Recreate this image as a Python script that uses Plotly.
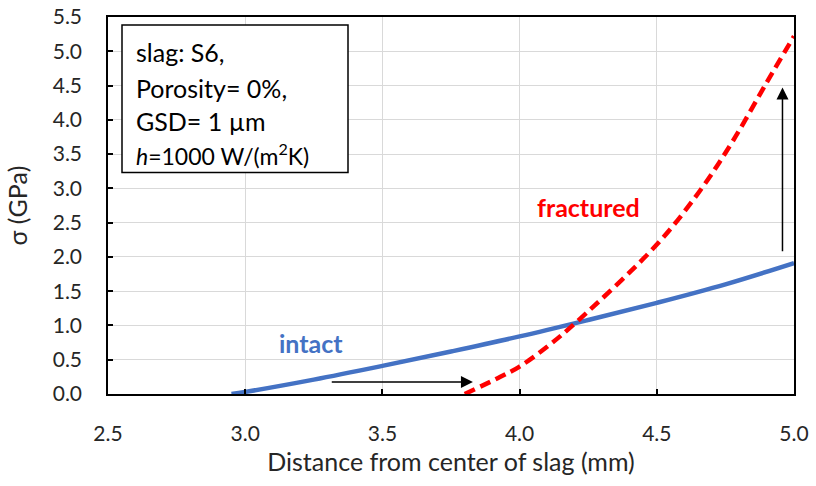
import plotly.graph_objects as go

# Stress profiles across the slag (distance in mm, stress in GPa)
intact_x = [2.95, 3.0, 3.25, 3.5, 3.75, 4.0, 4.25, 4.5, 4.75, 5.0]
intact_y = [0.0, 0.03, 0.21, 0.41, 0.62, 0.84, 1.08, 1.33, 1.60, 1.91]

fractured_x = [3.80, 3.93, 4.0, 4.11, 4.21, 4.5, 4.66, 4.78, 4.90, 5.0]
fractured_y = [0.0, 0.25, 0.40, 0.72, 1.06, 2.18, 2.98, 3.71, 4.54, 5.22]

x_ticks = [2.5, 3.0, 3.5, 4.0, 4.5, 5.0]
y_ticks = [0.0, 0.5, 1.0, 1.5, 2.0, 2.5, 3.0, 3.5, 4.0, 4.5, 5.0, 5.5]

# Shift arrows: intact -> fractured onset, and stress increase at the surface
h_arrow_x = [3.31, 3.83]
h_arrow_y = [0.175, 0.175]
v_arrow_x = [4.958, 4.958]
v_arrow_y = [2.06, 4.47]

info_lines = ["slag: S6,", "Porosity= 0%,", "GSD= 1 µm", "<i>h</i>=1000 W/(m<sup>2</sup>K)"]

FONT = "Lato"
BLUE = "#4472C4"
RED = "#FF0000"
TXT = "#262626"

fig = go.Figure()
fig.add_trace(go.Scatter(x=intact_x, y=intact_y, mode="lines",
                         line=dict(color=BLUE, width=4.5, shape="spline"),
                         showlegend=False))
fig.add_trace(go.Scatter(x=fractured_x, y=fractured_y, mode="lines",
                         line=dict(color=RED, width=4.5, dash="11px,6px", shape="spline"),
                         showlegend=False))

# Arrows drawn tail -> head in data coordinates
for ax_x, ax_y in [(h_arrow_x, h_arrow_y), (v_arrow_x, v_arrow_y)]:
    fig.add_annotation(x=ax_x[1], y=ax_y[1], ax=ax_x[0], ay=ax_y[0],
                       xref="x", yref="y", axref="x", ayref="y", text="",
                       showarrow=True, arrowhead=2, arrowsize=1.6, arrowwidth=1.5,
                       arrowcolor="black")

axis_common = dict(showline=True, linecolor="black", linewidth=1.5, mirror=True,
                   showgrid=True, gridcolor="#d9d9d9", gridwidth=1,
                   ticks="inside", ticklen=5, tickcolor="black", tickwidth=1.5,
                   zeroline=False, automargin=False,
                   tickfont=dict(family=FONT, size=21, color=TXT))

fig.update_xaxes(range=[2.5, 5.0], tickvals=x_ticks,
                 ticktext=[f"{v:.1f}" for v in x_ticks], ticklabelstandoff=20,
                 title=dict(text="Distance from center of slag (mm)",
                            font=dict(family=FONT, size=25, color=TXT), standoff=10),
                 **axis_common)
fig.update_yaxes(range=[0, 5.5], tickvals=y_ticks,
                 ticktext=[f"{v:.1f}" for v in y_ticks], ticklabelstandoff=20,
                 title=dict(text="σ (GPa)", font=dict(family=FONT, size=25, color=TXT),
                            standoff=18),
                 **axis_common)

# Curve labels
fig.add_annotation(x=3.24, y=0.75, text="<b>intact</b>", showarrow=False,
                   font=dict(family=FONT, size=25, color=BLUE))
fig.add_annotation(x=4.25, y=2.73, text="<b>fractured</b>", showarrow=False,
                   font=dict(family=FONT, size=25, color=RED))

# Info box
fig.add_shape(type="rect", xref="paper", yref="paper",
              x0=(122 - 108) / 686, x1=(348 - 108) / 686,
              y0=(394 - 173) / 376, y1=(394 - 26) / 376,
              line=dict(color="black", width=1.5), fillcolor="white", layer="above")
for i, t in enumerate(info_lines):
    yc = [53, 89, 122, 155][i]
    fig.add_annotation(xref="paper", yref="paper", x=(134 - 108) / 686, y=(394 - yc) / 376,
                       xanchor="left", yanchor="middle", text=t, showarrow=False,
                       font=dict(family=FONT, size=25 if i < 3 else 23, color="black"))

fig.update_layout(width=816, height=486, margin=dict(l=108, r=22, t=17, b=92),
                  plot_bgcolor="white", paper_bgcolor="white")

fig.write_html("out.html")
